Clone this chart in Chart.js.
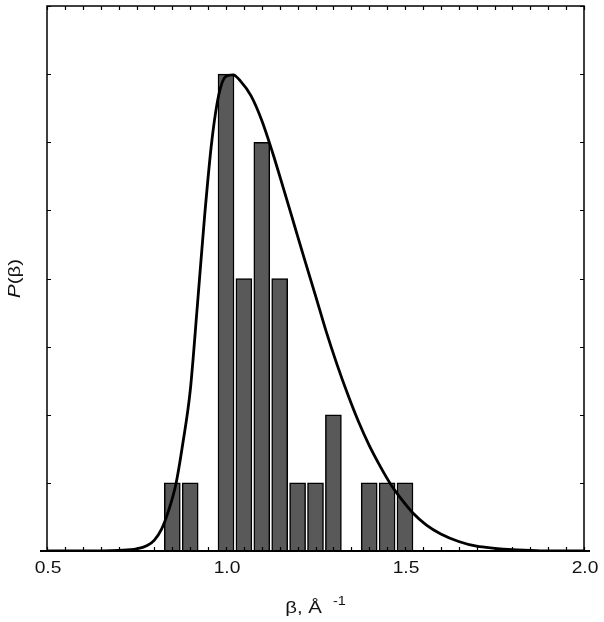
<!DOCTYPE html>
<html>
<head>
<meta charset="utf-8">
<script src="https://cdn.jsdelivr.net/npm/chart.js@4/dist/chart.umd.min.js"></script>
<style>
  html, body { margin: 0; padding: 0; background: #fff; }
  canvas { display: block; }
</style>
</head>
<body>
<canvas id="histChart" width="604" height="622"></canvas>
<script>
// histogram bins (beta, 1/A) and counts
const binCenters = [0.85, 0.9, 1.0, 1.05, 1.1, 1.15, 1.2, 1.25, 1.3, 1.4, 1.45, 1.5];
const binCounts = [1, 1, 7, 4, 6, 4, 1, 1, 2, 1, 1, 1];

// fitted distribution curve
const curveX = [0.5, 0.6, 0.7, 0.75, 0.78, 0.8, 0.82, 0.84, 0.86, 0.88, 0.9, 0.92, 0.94, 0.96, 0.98,
  1.0, 1.02, 1.04, 1.07, 1.1, 1.13, 1.16, 1.19, 1.22, 1.25, 1.28, 1.31, 1.34, 1.37, 1.4, 1.43,
  1.46, 1.49, 1.52, 1.56, 1.6, 1.65, 1.7, 1.75, 1.8, 1.85, 1.9, 2.0];
const curveY = [0, 0, 0.01, 0.03, 0.08, 0.16, 0.32, 0.6, 0.98, 1.6, 2.35, 3.6, 4.9, 6.0, 6.7,
  6.97, 6.99, 6.9, 6.68, 6.32, 5.85, 5.33, 4.8, 4.27, 3.75, 3.22, 2.74, 2.3, 1.9, 1.55, 1.25,
  0.98, 0.76, 0.57, 0.38, 0.25, 0.14, 0.07, 0.04, 0.02, 0.01, 0, 0];

const xLabels = [0.5, 1.0, 1.5, 2.0];
const xMinorStep = 0.05;
const yStep = 1;

const FONT = '"Liberation Sans", Arial, sans-serif';
const STRETCH = 1.2;

// text drawn a bit wider, like the original plot font
function wideText(ctx, str, x, y, font) {
  ctx.save();
  ctx.font = font;
  ctx.translate(x, y);
  ctx.scale(STRETCH, 1);
  ctx.fillText(str, 0, 0);
  ctx.restore();
}
function wideWidth(ctx, str, font) {
  ctx.font = font;
  return ctx.measureText(str).width * STRETCH;
}

// axes frame, inward ticks and titles
const framePlugin = {
  id: 'frame',
  afterDraw(chart) {
    const { ctx, chartArea: a, scales: { x, y } } = chart;
    ctx.save();
    ctx.strokeStyle = '#000';
    ctx.lineWidth = 1.5;
    ctx.beginPath();
    ctx.moveTo(a.left, a.bottom);
    ctx.lineTo(a.left, a.top);
    ctx.lineTo(a.right, a.top);
    ctx.lineTo(a.right, a.bottom);
    ctx.stroke();

    ctx.lineWidth = 2.2;
    ctx.beginPath();
    ctx.moveTo(a.left - 7, a.bottom);
    ctx.lineTo(a.right + 6, a.bottom);
    ctx.stroke();

    ctx.lineWidth = 1.2;
    ctx.beginPath();
    for (let v = x.min; v <= x.max + 1e-9; v += xMinorStep) {
      const px = Math.round(x.getPixelForValue(v)) + 0.5;
      ctx.moveTo(px, a.bottom);
      ctx.lineTo(px, a.bottom - 4);
      ctx.moveTo(px, a.top);
      ctx.lineTo(px, a.top + 4);
    }
    for (let v = y.min; v <= y.max + 1e-9; v += yStep) {
      const py = Math.round(y.getPixelForValue(v)) + 0.5;
      ctx.moveTo(a.left, py);
      ctx.lineTo(a.left + 4, py);
      ctx.moveTo(a.right, py);
      ctx.lineTo(a.right - 4, py);
    }
    ctx.stroke();

    ctx.fillStyle = '#111';
    ctx.textAlign = 'center';
    ctx.textBaseline = 'middle';
    xLabels.forEach(v => {
      wideText(ctx, v.toFixed(1), x.getPixelForValue(v) + 1, a.bottom + 18, '16px ' + FONT);
    });

    // x title: beta, A^-1
    const cx = (a.left + a.right) / 2;
    const base = 613;
    ctx.textBaseline = 'alphabetic';
    ctx.textAlign = 'left';
    const fMain = '17px ' + FONT;
    const fSup = '12px ' + FONT;
    const wMain = wideWidth(ctx, 'β, Å', fMain);
    const wSup = wideWidth(ctx, '-1', fSup);
    const gap = 11;
    const sx = cx - (wMain + gap + wSup) / 2;
    wideText(ctx, 'β, Å', sx, base, fMain);
    wideText(ctx, '-1', sx + wMain + gap, base - 8, fSup);

    // y title: P(beta), P italic
    ctx.translate(20, (a.top + a.bottom) / 2);
    ctx.rotate(-Math.PI / 2);
    const fP = 'italic 17px ' + FONT;
    const fRest = '17px ' + FONT;
    const wP = wideWidth(ctx, 'P', fP);
    const wRest = wideWidth(ctx, '(β)', fRest);
    const tx = -(wP + wRest) / 2;
    wideText(ctx, 'P', tx, 0, fP);
    wideText(ctx, '(β)', tx + wP, 0, fRest);
    ctx.restore();
  }
};

const ctx = document.getElementById('histChart');

const myChart = new Chart(ctx, {
  type: 'bar',
  data: {
    datasets: [{
      type: 'line',
      data: curveX.map((v, i) => ({ x: v, y: curveY[i] })),
      borderColor: '#000',
      borderWidth: 2.8,
      pointRadius: 0,
      tension: 0.4,
      cubicInterpolationMode: 'monotone',
      fill: false,
      order: 0
    }, {
      type: 'bar',
      data: binCenters.map((v, i) => ({ x: v, y: binCounts[i] })),
      backgroundColor: '#595959',
      borderColor: '#000',
      borderWidth: 1.5,
      barThickness: 16,
      order: 1
    }]
  },
  options: {
    responsive: false,
    animation: false,
    layout: {
      padding: { left: 47, right: 20, top: 6, bottom: 71 }
    },
    plugins: {
      legend: { display: false },
      tooltip: { enabled: false }
    },
    scales: {
      x: { type: 'linear', min: 0.5, max: 2.0, display: false, offset: false },
      y: { type: 'linear', min: 0, max: 8, display: false }
    }
  },
  plugins: [framePlugin]
});
</script>
</body>
</html>
